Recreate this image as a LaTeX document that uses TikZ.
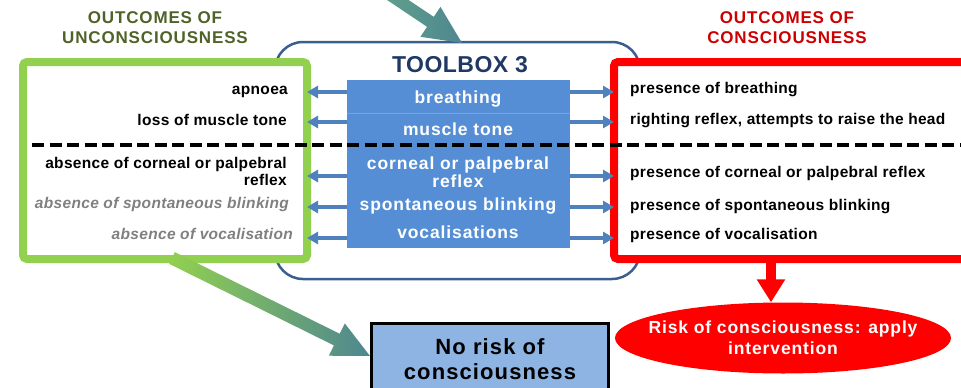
\documentclass[tikz,border=0pt]{standalone}
\usepackage{fontspec}
\setmainfont{Liberation Sans}[LetterSpace=2]
\newfontfamily\wideface{Liberation Sans}[LetterSpace=5]
\usetikzlibrary{shapes.geometric,arrows.meta,calc,positioning}

\definecolor{okgreen}{HTML}{92D050}
\definecolor{headgreen}{HTML}{4F6228}
\definecolor{headred}{HTML}{CC0000}
\definecolor{toolblue}{HTML}{558ED5}
\definecolor{arrowblue}{HTML}{4F81BD}
\definecolor{frameblue}{HTML}{3A5F8E}
\definecolor{titleblue}{HTML}{1F3864}
\definecolor{noriskblue}{HTML}{8EB4E3}
\definecolor{tealstart}{HTML}{64A58A}
\definecolor{tealend}{HTML}{4E8790}

% broad shaded arrow: start, tip, half shaft, half head, head length, shading
\newcommand\fatarrow[6]{%
  \coordinate (fatbase) at ($(#2)!#5!(#1)$);
  \shade[#6] ($(#1)!#3!90:(#2)$) -- ($(fatbase)!#3!90:(#2)$)
    -- ($(fatbase)!#4!90:(#2)$) -- (#2) -- ($(fatbase)!#4!-90:(#2)$)
    -- ($(fatbase)!#3!-90:(#2)$) -- ($(#1)!#3!-90:(#2)$) -- cycle;
}

\tikzset{
  outbox/.style={rectangle, line width=8pt, rounded corners=4pt, fill=white,
    minimum width=#1, minimum height=197pt, inner sep=0pt},
  headtext/.style={font=\wideface\fontsize{17}{20}\selectfont\bfseries, align=center, inner sep=0pt},
  outtext/.style={font=\fontsize{15.5}{17}\selectfont\bfseries, inner sep=0pt},
  graytext/.style={outtext, font=\fontsize{15.5}{17}\selectfont\bfseries\itshape, text=gray},
  toollabel/.style={font=\wideface\fontsize{17.5}{18}\selectfont\bfseries, text=white, inner sep=0pt, anchor=base},
  toolarrow/.style={arrowblue, line width=3.5pt, shorten >=-4pt,
    -{Triangle[width=12pt,length=11pt]}},
  cutline/.style={line width=4pt, dash pattern=on 12pt off 5.5pt}
}

\begin{document}
\begin{tikzpicture}[x=1pt, y=-1pt]
  \useasboundingbox (0,0) rectangle (961,388);

  % toolbox frame behind the outcome boxes
  \node[draw=frameblue, line width=2.5pt, rounded corners=28pt,
    minimum width=365pt, minimum height=237pt] (frame) at (457.5,160.5) {};

  % outcome boxes
  \node[outbox=284pt, draw=okgreen] (gb) at (165,160.5) {};
  \node[outbox=376pt, draw=red] (rb) at (802,160.5) {};

  % headings
  \node[headtext, text=headgreen] (gh) at (155,28) {OUTCOMES OF\\UNCONSCIOUSNESS};
  \node[headtext, text=headred] (rh) at (787,28) {OUTCOMES OF\\CONSCIOUSNESS};
  \node[font=\fontsize{23}{24}\selectfont\bfseries, text=titleblue, inner sep=0pt,
    anchor=base] (title) at (460,72) {TOOLBOX 3};

  % toolbox block
  \node[fill=toolblue, minimum width=223pt, minimum height=168pt, inner sep=0pt] (tb) at (458.5,164) {};
  \coordinate (rowcut) at (0,113);
  \draw[toolblue!80!white, line width=1pt] (tb.west |- rowcut) -- (tb.east |- rowcut);
  \node[toollabel] (m1) at (458,103) {breathing};
  \node[toollabel] (m2) at (458,135) {muscle tone};
  \node[toollabel, anchor=center, align=center] (m3) at (458,172) {corneal or palpebral\\reflex};
  \node[toollabel] (m4) at (458,210) {spontaneous blinking};
  \node[toollabel] (m5) at (458,238) {vocalisations};

  % left side
  \node[outtext, anchor=base east] (l1) at (288,94) {apnoea};
  \node[outtext, anchor=base east] (l2) at (287,125) {loss of muscle tone};
  \node[outtext, anchor=east, align=right] (l3) at (287,171) {absence of corneal or palpebral\\reflex};
  \node[graytext, anchor=base east] (l4) at (289,208) {absence of spontaneous blinking};
  \node[graytext, anchor=base east] (l5) at (293,239) {absence of vocalisation};

  % right side
  \node[outtext, anchor=base west] (r1) at (630,93) {presence of breathing};
  \node[outtext, anchor=base west] (r2) at (630,124) {righting reflex, attempts to raise the head};
  \node[outtext, anchor=base west] (r3) at (630,177) {presence of corneal or palpebral reflex};
  \node[outtext, anchor=base west] (r4) at (630,210) {presence of spontaneous blinking};
  \node[outtext, anchor=base west] (r5) at (630,239) {presence of vocalisation};

  % arrows out of the toolbox
  \foreach \i/\yy in {1/92,2/122,3/176,4/207,5/238}{
    \coordinate (row\i) at (0,\yy);
    \draw[toolarrow] (tb.west |- row\i) -- (gb.east |- row\i);
    \draw[toolarrow] (tb.east |- row\i) -- (rb.west |- row\i);
  }

  % dashed cut
  \coordinate (cutL) at (32,145);
  \coordinate (cutR) at (961,145);
  \draw[cutline] (cutL) -- (cutR);

  % results
  \node[draw=black, line width=3pt, fill=noriskblue, minimum width=237pt, minimum height=72pt,
    font=\wideface\fontsize{22}{25}\selectfont\bfseries, align=center] (nr) at (490,359) {No risk of\\consciousness};
  \node[ellipse, fill=red, minimum width=336pt, minimum height=71pt, inner xsep=-40pt, inner ysep=-12pt,
    font=\wideface\fontsize{17.5}{21}\selectfont\bfseries, text=white, align=center] (risk) at (783,338)
    {Risk of consciousness: apply\\intervention};

  % big arrows
  \coordinate (tstart) at (368,-20);
  \coordinate (ttip) at (462,43);
  \fatarrow{tstart}{ttip}{6pt}{18pt}{38pt}{left color=tealstart, right color=tealend}
  \coordinate (gstart) at (172,258);
  \coordinate (gtip) at (370,356);
  \fatarrow{gstart}{gtip}{6.5pt}{18pt}{37pt}{left color=okgreen, right color=tealend}
  \coordinate (rdrop) at (771,262);
  \draw[red, line width=10pt, -{Triangle[width=27pt,length=23pt]}] (rdrop) -- (rdrop |- risk.north);
\end{tikzpicture}
\end{document}
